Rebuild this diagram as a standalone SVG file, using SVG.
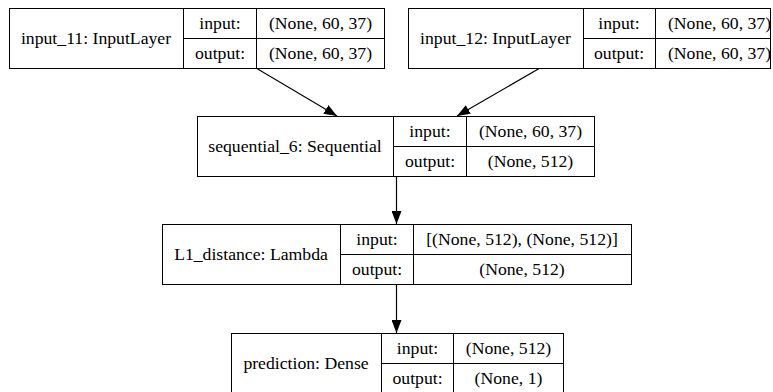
<svg xmlns="http://www.w3.org/2000/svg" width="773" height="392" viewBox="0 0 773 392" font-family="Liberation Serif, Times New Roman, serif" font-size="17.7">
<style>
.box{fill:#ffffff;stroke:#000000;stroke-width:1}
.ln{stroke:#000000;stroke-width:1;fill:none}
.t{font-family:Liberation Serif,Times New Roman,serif;font-size:17.7px;fill:#000000;text-anchor:middle}
.edge{stroke:#000000;stroke-width:1.2;fill:none;marker-end:url(#arr)}
</style>
<defs>
<marker id="arr" markerUnits="userSpaceOnUse" markerWidth="14" markerHeight="10" refX="13" refY="5" orient="auto">
<path d="M0,0 L13,5 L0,10 z" fill="#000000"/>
</marker>
</defs>
<rect width="773" height="392" fill="#ffffff"/>
<g id="connectors">
<line class="edge" x1="256" y1="68" x2="337" y2="116"/>
<line class="edge" x1="540" y1="68" x2="457" y2="116"/>
<line class="edge" x1="396.5" y1="177" x2="396.5" y2="224"/>
<line class="edge" x1="396.5" y1="285" x2="396.5" y2="333"/>
</g>
<g id="input_11" font-family="Liberation Serif, serif">
<rect class="box" x="9.5" y="8.5" width="375" height="60"/>
<path class="ln" d="M183.5,8.5 V68.5 M256.5,8.5 V68.5 M183.5,38.5 H384.5"/>
<text class="t" x="96" y="44">input_11: InputLayer</text>
<text class="t" x="220" y="29">input:</text>
<text class="t" x="220" y="59">output:</text>
<text class="t" x="320.5" y="29">(None, 60, 37)</text>
<text class="t" x="320.5" y="59">(None, 60, 37)</text>
</g>
<g id="input_12" font-family="Liberation Serif, serif">
<rect class="box" x="408.5" y="8.5" width="362" height="60"/>
<path class="ln" d="M583.5,8.5 V68.5 M655.5,8.5 V68.5 M583.5,38.5 H770.5"/>
<text class="t" x="495.5" y="44">input_12: InputLayer</text>
<text class="t" x="619" y="29">input:</text>
<text class="t" x="619" y="59">output:</text>
<text class="t" x="719.5" y="29">(None, 60, 37)</text>
<text class="t" x="719.5" y="59">(None, 60, 37)</text>
</g>
<g id="sequential_6" font-family="Liberation Serif, serif">
<rect class="box" x="197.5" y="116.5" width="397" height="60"/>
<path class="ln" d="M393.5,116.5 V176.5 M466.5,116.5 V176.5 M393.5,146.5 H594.5"/>
<text class="t" x="295" y="152">sequential_6: Sequential</text>
<text class="t" x="430" y="137">input:</text>
<text class="t" x="430" y="167">output:</text>
<text class="t" x="530.5" y="137">(None, 60, 37)</text>
<text class="t" x="530.5" y="167">(None, 512)</text>
</g>
<g id="L1_distance" font-family="Liberation Serif, serif">
<rect class="box" x="162.5" y="224.5" width="469" height="60"/>
<path class="ln" d="M340.5,224.5 V284.5 M413.5,224.5 V284.5 M340.5,254.5 H631.5"/>
<text class="t" x="251" y="260">L1_distance: Lambda</text>
<text class="t" x="377" y="245">input:</text>
<text class="t" x="377" y="275">output:</text>
<text class="t" x="522" y="245">[(None, 512), (None, 512)]</text>
<text class="t" x="522" y="275">(None, 512)</text>
</g>
<g id="prediction" font-family="Liberation Serif, serif">
<rect class="box" x="231.5" y="333.5" width="332" height="61"/>
<path class="ln" d="M381.5,333.5 V394 M453.5,333.5 V394 M381.5,363.5 H563.5"/>
<text class="t" x="306" y="369">prediction: Dense</text>
<text class="t" x="417.5" y="354">input:</text>
<text class="t" x="417.5" y="384">output:</text>
<text class="t" x="508.5" y="354">(None, 512)</text>
<text class="t" x="508.5" y="384">(None, 1)</text>
</g>
</svg>
